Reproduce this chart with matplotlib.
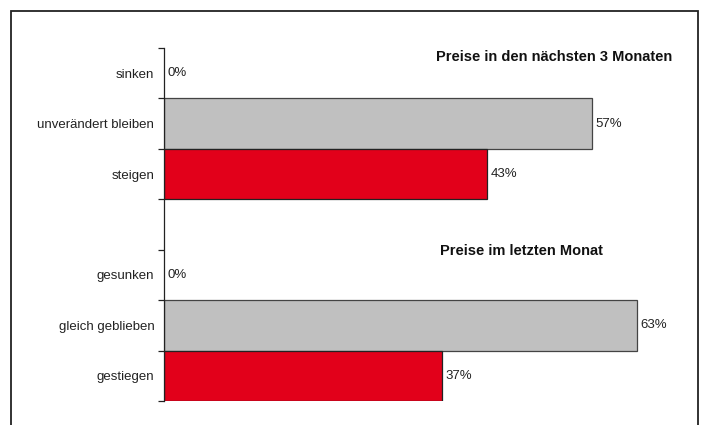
import matplotlib.pyplot as plt
from matplotlib.patches import Rectangle

# Kategorien von oben nach unten, "" = Leerzeile zwischen den Bloecken
labels = ["sinken", "unverändert bleiben", "steigen", "",
          "gesunken", "gleich geblieben", "gestiegen"]
werte = [0, 57, 43, None, 0, 63, 37]
farben = ["#C0C0C0", "#C0C0C0", "#E2001A", None, "#C0C0C0", "#C0C0C0", "#E2001A"]
titel_oben = "Preise in den nächsten 3 Monaten"
titel_unten = "Preise im letzten Monat"

plt.rcParams['font.family'] = ['Liberation Sans', 'DejaVu Sans']

fig = plt.figure(figsize=(7.01, 4.25), dpi=100)
fig.patches.append(Rectangle((11 / 701, -0.1), 687 / 701, 1 - 11 / 425 + 0.1,
                             transform=fig.transFigure, fill=False,
                             edgecolor="#222222", linewidth=1.3))

ax = fig.add_axes([164 / 701, 1 - 401 / 425, 526 / 701, 353 / 425])

pos = list(range(len(labels)))
for p, v, c in zip(pos, werte, farben):
    if v is None:
        continue
    kante = "#222222" if c == "#E2001A" else "#444444"
    if v > 0:
        ax.barh(p, v, height=1.0, color=c, edgecolor=kante, linewidth=0.9)
    ax.text(v + 0.45, p, "%d%%" % v, va="center", ha="left", fontsize=9.5,
            color="#222222")

ax.set_xlim(0, 70)
ax.set_ylim(len(labels) - 0.5, -0.5)
ax.set_yticks(pos)
ax.set_yticklabels(labels, fontsize=9.5, color="#222222")
ax.set_yticks([p - 0.5 for p in pos] + [len(labels) - 0.5], minor=True)
ax.tick_params(axis="y", which="major", length=0, pad=7)
ax.tick_params(axis="y", which="minor", length=4, width=0.9, color="#222222")
ax.set_xticks([])
for s in ["top", "right", "bottom"]:
    ax.spines[s].set_visible(False)
ax.spines["left"].set_linewidth(0.9)
ax.spines["left"].set_color("#222222")

ax.text(67.7, -0.32, titel_oben, ha="right", va="center", fontsize=10.5,
        fontweight="bold", color="#111111")
ax.text(58.4, 3.53, titel_unten, ha="right", va="center", fontsize=10.5,
        fontweight="bold", color="#111111")

fig.savefig("out.png", dpi=100)
